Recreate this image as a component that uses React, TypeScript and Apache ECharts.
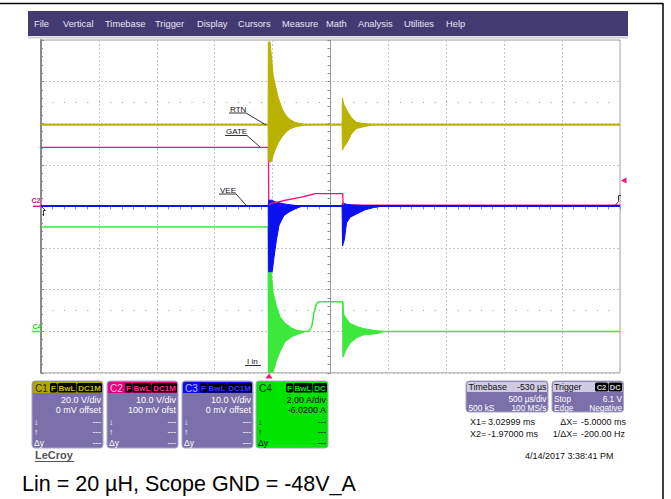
import React, { useEffect, useRef } from "react";
import * as echarts from "echarts";

// ---------- Time base: 500 µs/div, 10 div, delay -530 µs (cursor X2=-1.97 ms, X1=3.03 ms)
const T_MIN = -1970;
const T_MAX = 3030;

// ---------- Channel vertical ranges (8 div, scale and offset from the channel panels)
const C1_RANGE = [-80, 80]; // 20 V/div, 0 mV offset
const C2_RANGE = [-40.1, 39.9]; // 10 V/div, 100 mV offset
const C3_RANGE = [-40, 40]; // 10 V/div, 0 mV offset
const C4_RANGE = [-1.98, 14.02]; // 2 A/div, -6.02 A offset

// ---------- C1 RTN (V)
const C1_TIME = [-1970, -9, 300, 630, 880, 3030];
const C1_VOLTS = [39.2, 39.2, 39.2, 39.2, 39.2, 39.2];
// ringing bursts as min/max envelopes: [time µs, max, min]
const C1_RING_A = [
  [-9, 39.4, 39.0],
  [-7, 79.0, 22.3],
  [8, 79.0, 21.3],
  [20, 72.0, 21.5],
  [35, 63.0, 24.5],
  [51, 58.8, 27.1],
  [77, 52.6, 30.5],
  [111, 47.0, 33.4],
  [146, 43.6, 35.8],
  [180, 41.8, 37.2],
  [223, 40.5, 38.2],
  [267, 39.8, 38.7],
  [300, 39.4, 39.0],
];
const C1_RING_B = [
  [630, 39.4, 39.0],
  [633, 52.0, 27.1],
  [645, 49.0, 28.5],
  [670, 46.3, 30.3],
  [713, 42.4, 35.1],
  [756, 40.4, 37.5],
  [815, 39.8, 38.3],
  [880, 39.4, 39.0],
];

// ---------- C2 GATE (V)
const C2_PRE_TIME = [-1970, -6, -3];
const C2_PRE_VOLTS = [14.1, 14.1, 0.3];
const C2_TIME = [-3, 22, 152, 267, 353, 396, 635, 640];
const C2_VOLTS = [0.3, 0.65, 1.44, 2.09, 2.64, 2.95, 2.95, 0.2];
const C2_POST_TIME = [640, 3030];
const C2_POST_VOLTS = [0.2, 0.2];

// ---------- C3 VEE (V)
const C3_TIME = [-1970, -8, 280, 630, 960, 3030];
const C3_VOLTS = [0.1, 0.1, 0.1, 0.1, 0.1, 0.1];
const C3_RING_A = [
  [-8, 0.2, 0.0],
  [-4, 1.5, -15.7],
  [27, 1.5, -15.7],
  [43, 1.2, -12.1],
  [63, 1.0, -8.1],
  [86, 0.9, -4.5],
  [128, 0.6, -2.2],
  [180, 0.4, -1.2],
  [232, 0.2, -0.5],
  [280, 0.2, 0.0],
];
const C3_RING_B = [
  [630, 0.2, 0.0],
  [634, 0.8, -9.5],
  [650, 0.7, -8.0],
  [668, 0.5, -4.0],
  [700, 0.4, -2.6],
  [756, 0.3, -1.8],
  [830, 0.2, -0.8],
  [900, 0.2, -0.3],
  [960, 0.2, 0.0],
];

// ---------- C4 I in (A)
const C4_TIME = [-1970, -8, -4, 0, 300, 338, 368, 387, 405, 425, 635, 640, 3030];
const C4_AMPS = [5.03, 5.03, -1.97, 0, 0, 0, 0.24, 0.9, 1.28, 1.44, 1.44, 0, 0];
const C4_RING_A = [
  [-5, 2.96, -1.97],
  [16, 2.96, -1.97],
  [33, 1.92, -1.97],
  [65, 1.2, -1.37],
  [94, 0.72, -0.97],
  [137, 0.41, -0.49],
  [195, 0.17, -0.25],
  [249, 0.04, -0.12],
  [300, 0.01, -0.02],
];
const C4_RING_B = [
  [636, 1.44, -1.21],
  [642, 0.88, -1.21],
  [655, 0.72, -0.97],
  [698, 0.4, -0.55],
  [756, 0.25, -0.3],
  [813, 0.15, -0.16],
  [929, 0.04, -0.1],
  [980, 0.01, -0.02],
];

// ---------- Texts
const MENU_ITEMS = ["File", "Vertical", "Timebase", "Trigger", "Display", "Cursors", "Measure", "Math", "Analysis", "Utilities", "Help"];
const MENU_X = [34, 63, 105, 155, 197, 238, 282, 326, 358, 404, 446];
const CAPTION = "Lin = 20 µH, Scope GND = -48V_A";

const YELLOW = "#bab200";
const PINK = "#f5147f";
const BLUE = "#0a10f0";
const GREEN = "#3de83d";

const FONT = '"Liberation Sans", Arial, sans-serif';
const F = (s: number, w = "normal") => `${w} ${s}px ${FONT}`;

function txt(x: number, y: number, text: string, size: number, fill: string, align = "left", weight = "normal"): any {
  return {
    type: "text",
    silent: true,
    z: 100,
    style: {
      x,
      y,
      text,
      font: F(size, weight),
      fill,
      textAlign: align,
      textVerticalAlign: "middle",
      align,
      verticalAlign: "middle",
    },
  };
}
function ln(x1: number, y1: number, x2: number, y2: number, stroke: string, lineWidth = 1): any {
  return { type: "line", silent: true, z: 100, shape: { x1, y1, x2, y2 }, style: { stroke, lineWidth } };
}
function rect(x: number, y: number, w: number, h: number, fill: string, r: any = 0, stroke?: string): any {
  return {
    type: "rect",
    silent: true,
    z: 90,
    shape: { x, y, width: w, height: h, r },
    style: stroke ? { fill, stroke, lineWidth: 1 } : { fill },
  };
}

type Panel = {
  x: number;
  w: number;
  body: string;
  header: string;
  name: string;
  nameColor: string;
  badgeColor: string;
  badges: { t: string; dx: number; w: number }[];
  lines: string[];
  text: string;
};

const PANELS: Panel[] = [
  {
    x: 32, w: 71, body: "#7b70a9", header: "#b3a700", name: "C1", nameColor: "#2e2a00", badgeColor: "#c9bd00",
    badges: [{ t: "F", dx: 18, w: 7 }, { t: "BwL", dx: 25.5, w: 19 }, { t: "DC1M", dx: 45, w: 25 }],
    lines: ["20.0 V/div", "0 mV offset"], text: "#ffffff",
  },
  {
    x: 107, w: 71, body: "#7b70a9", header: "#e6007c", name: "C2", nameColor: "#ffc6e3", badgeColor: "#ff2a96",
    badges: [{ t: "F", dx: 18, w: 7 }, { t: "BwL", dx: 25.5, w: 19 }, { t: "DC1M", dx: 45, w: 25 }],
    lines: ["10.0 V/div", "100 mV ofst"], text: "#ffffff",
  },
  {
    x: 182, w: 71, body: "#7b70a9", header: "#0c0ce6", name: "C3", nameColor: "#b8b8ff", badgeColor: "#3a3aff",
    badges: [{ t: "F", dx: 18, w: 7 }, { t: "BwL", dx: 25.5, w: 19 }, { t: "DC1M", dx: 45, w: 25 }],
    lines: ["10.0 V/div", "0 mV offset"], text: "#ffffff",
  },
  {
    x: 256, w: 72, body: "#00e400", header: "#00e400", name: "C4", nameColor: "#003300", badgeColor: "#00e400",
    badges: [{ t: "F", dx: 30, w: 7 }, { t: "BwL", dx: 37.5, w: 19 }, { t: "DC", dx: 57, w: 14 }],
    lines: ["2.00 A/div", "-6.0200 A"], text: "#000000",
  },
];

function panelEls(p: Panel): any[] {
  const els: any[] = [];
  els.push(rect(p.x, 381, p.w, 67, p.body, 3, "#aaa3cc"));
  els.push(rect(p.x + 1, 382, p.w - 2, 11, p.header, [2, 2, 0, 0]));
  els.push(txt(p.x + 3, 388, p.name, 10, p.nameColor));
  p.badges.forEach((b) => {
    els.push({ ...rect(p.x + b.dx, 383, b.w, 9.5, "#000", 1.5), z: 95 });
    els.push(txt(p.x + b.dx + b.w / 2, 388, b.t, 8, p.badgeColor, "center", "bold"));
  });
  els.push(txt(p.x + p.w - 2, 399.5, p.lines[0], 9, p.text, "right"));
  els.push(txt(p.x + p.w - 2, 410, p.lines[1], 9, p.text, "right"));
  ["↓", "↑", "Δy"].forEach((g, i) => {
    const yy = 421.7 + i * 10.5;
    els.push(txt(p.x + 2, yy, g, 8.5, p.text));
    els.push(txt(p.x + p.w - 2, yy, "---", 8.5, p.text, "right"));
  });
  return els;
}

function envSeries(name: string, env: number[][], yAxisIndex: number, color: string, z: number): any {
  return {
    type: "custom",
    name,
    xAxisIndex: 1,
    yAxisIndex,
    z,
    silent: true,
    data: env,
    encode: { x: 0, y: [1, 2] },
    renderItem: (params: any, api: any) => {
      if (params.dataIndex !== 0) return null;
      const upper = env.map((r) => api.coord([r[0], r[1]]));
      const lower = env.slice().reverse().map((r) => api.coord([r[0], r[2]]));
      return {
        type: "polygon",
        shape: { points: upper.concat(lower) },
        style: { fill: color, stroke: color, lineWidth: 1 },
      };
    },
  };
}

const pairs = (xs: number[], ys: number[]) => xs.map((x, i) => [x, ys[i]]);

function lineSeries(name: string, data: number[][], yAxisIndex: number, color: string, width: number, z: number): any {
  return {
    type: "line",
    name,
    xAxisIndex: 1,
    yAxisIndex,
    data,
    symbol: "none",
    showSymbol: false,
    silent: true,
    z,
    lineStyle: { color, width },
  };
}

function buildOption(): any {
  const divAxisCommon = {
    type: "value",
    axisLabel: { show: false },
    axisTick: { show: true, length: 3, lineStyle: { color: "#8c8c8c" } },
    minorTick: { show: true, splitNumber: 5, length: 3, lineStyle: { color: "#8c8c8c" } },
    minorSplitLine: { show: false },
  };
  const hidden = (min: number, max: number) => ({ type: "value", min, max, show: false, splitLine: { show: false } });

  const graphic: any[] = [];
  // page frame
  graphic.push(ln(0, 3.5, 663, 3.5, "#000", 1.5));
  graphic.push(ln(663, 3, 663, 499, "#000", 1.5));
  // menu bar
  graphic.push(rect(28, 11, 600, 25, "#433a72"));
  graphic.push(ln(28, 37.5, 628, 37.5, "#cfcfcf", 2));
  MENU_ITEMS.forEach((m, i) => graphic.push(txt(MENU_X[i], 23.5, m, 9.3, "#e8e6f2")));
  // trace labels
  graphic.push(txt(230, 109, "RTN", 8, "#111"));
  graphic.push(ln(229, 113, 246, 113, "#333"));
  graphic.push(ln(246, 113, 266, 125, "#333"));
  graphic.push(txt(226, 131.5, "GATE", 8, "#111"));
  graphic.push(ln(225, 135.5, 247, 135.5, "#333"));
  graphic.push(ln(247, 135.5, 260, 147, "#333"));
  graphic.push(txt(220, 190, "VEE", 8, "#111"));
  graphic.push(ln(219, 194, 236, 194, "#333"));
  graphic.push(ln(236, 194, 246, 205, "#333"));
  graphic.push(txt(247, 361.5, "I in", 8, "#111"));
  graphic.push(ln(245, 365.5, 261, 365.5, "#333"));
  // channel ground markers & trigger markers
  graphic.push(txt(31.5, 200, "C2", 7, "#d0108a", "left", "bold"));
  graphic.push(ln(33, 206.3, 41, 206.3, PINK, 1.5));
  graphic.push(txt(32.5, 326, "C4", 7, "#22cc22", "left", "bold"));
  graphic.push(ln(32, 331.5, 41, 331.5, GREEN, 1.5));
  graphic.push({ type: "polyline", silent: true, z: 100, shape: { points: [[41.5, 206.5], [45.5, 210.5], [43.5, 210.5], [43.5, 216]] }, style: { stroke: "#333", fill: null, lineWidth: 1 } });
  graphic.push({ type: "polyline", silent: true, z: 100, shape: { points: [[615.5, 205], [618.5, 201.5], [618.5, 195.5], [621, 195.5]] }, style: { stroke: "#333", fill: null, lineWidth: 1 } });
  graphic.push({ type: "polygon", silent: true, z: 100, shape: { points: [[621, 180.5], [626.5, 177.5], [626.5, 183.5]] }, style: { fill: PINK } });
  graphic.push({ type: "polygon", silent: true, z: 100, shape: { points: [[269, 373.5], [265.5, 378.5], [272.5, 378.5]] }, style: { fill: PINK } });
  // channel panels
  PANELS.forEach((p) => graphic.push(...panelEls(p)));
  // LeCroy logo
  graphic.push(txt(35, 455, "LeCroy", 11, "#555", "left", "bold"));
  graphic.push(ln(35, 461.5, 74, 461.5, "#555", 1));
  // Timebase panel
  graphic.push(rect(466, 381, 82, 31, "#7b70a9", 3, "#aaa3cc"));
  graphic.push(rect(467, 382, 80, 10, "#cfcbe0", [2, 2, 0, 0]));
  graphic.push(txt(468.5, 387, "Timebase", 8.8, "#111"));
  graphic.push(txt(546.5, 387, "-530 µs", 8.8, "#111", "right"));
  graphic.push(txt(546.5, 399.3, "500 µs/div", 8.3, "#fff", "right"));
  graphic.push(txt(468.5, 408.3, "500 kS", 8.3, "#fff"));
  graphic.push(txt(546.5, 408.3, "100 MS/s", 8.3, "#fff", "right"));
  // Trigger panel
  graphic.push(rect(552, 381, 71.5, 31, "#7b70a9", 3, "#aaa3cc"));
  graphic.push(rect(553, 382, 69.5, 10, "#cfcbe0", [2, 2, 0, 0]));
  graphic.push(txt(554, 387, "Trigger", 8.8, "#111"));
  graphic.push({ ...rect(595, 382.5, 13, 9, "#000", 1.5), z: 95 });
  graphic.push(txt(601.5, 387.2, "C2", 7.5, "#d8d8d8", "center", "bold"));
  graphic.push({ ...rect(608.5, 382.5, 13.5, 9, "#000", 1.5), z: 95 });
  graphic.push(txt(615.2, 387.2, "DC", 7.5, "#d8d8d8", "center", "bold"));
  graphic.push(txt(554, 399.3, "Stop", 8.3, "#fff"));
  graphic.push(txt(622, 399.3, "6.1 V", 8.3, "#fff", "right"));
  graphic.push(txt(554, 408.3, "Edge", 8.3, "#fff"));
  graphic.push(txt(622, 408.3, "Negative", 8.3, "#fff", "right"));
  // cursor readouts
  graphic.push(txt(470, 422, "X1=", 9, "#111"));
  graphic.push(txt(488, 422, "3.02999 ms", 9, "#111"));
  graphic.push(txt(577.5, 422, "ΔX=", 9, "#111", "right"));
  graphic.push(txt(581, 422, "-5.0000 ms", 9, "#111"));
  graphic.push(txt(470, 434.3, "X2=", 9, "#111"));
  graphic.push(txt(488, 434.3, "-1.97000 ms", 9, "#111"));
  graphic.push(txt(577.5, 434.3, "1/ΔX=", 9, "#111", "right"));
  graphic.push(txt(581, 434.3, "-200.00 Hz", 9, "#111"));
  graphic.push(txt(525, 456, "4/14/2017 3:38:41 PM", 9, "#111"));
  // caption
  graphic.push(txt(22, 484, CAPTION, 21.5, "#000"));

  return {
    animation: false,
    backgroundColor: "#ffffff",
    grid: {
      left: 41,
      top: 40,
      width: 579,
      height: 332.8,
      show: true,
      borderColor: "#a6a6a6",
      borderWidth: 1,
      backgroundColor: "transparent",
    },
    xAxis: [
      {
        ...divAxisCommon,
        min: -5,
        max: 5,
        interval: 1,
        axisLine: { show: true, onZero: true, onZeroAxisIndex: 0, lineStyle: { color: "#9a9a9a", width: 1 } },
        splitLine: { show: true, lineStyle: { color: "#c6c6c6", type: [2, 2], width: 1 } },
      },
      { ...hidden(T_MIN, T_MAX), position: "top" },
    ],
    yAxis: [
      {
        ...divAxisCommon,
        min: -4,
        max: 4,
        interval: 1,
        axisLine: { show: true, onZero: true, onZeroAxisIndex: 0, lineStyle: { color: "#9a9a9a", width: 1 } },
        splitLine: { show: true, lineStyle: { color: "#c6c6c6", type: [2, 2], width: 1 } },
      },
      hidden(C1_RANGE[0], C1_RANGE[1]),
      hidden(C2_RANGE[0], C2_RANGE[1]),
      hidden(C3_RANGE[0], C3_RANGE[1]),
      hidden(C4_RANGE[0], C4_RANGE[1]),
      {
        type: "value",
        min: -4,
        max: 4,
        interval: 1,
        position: "left",
        axisLabel: { show: false },
        splitLine: { show: false },
        axisLine: { show: true, onZero: false, lineStyle: { color: "#8a8a8a", width: 2 } },
        axisTick: { show: true, inside: true, length: 3, lineStyle: { color: "#8a8a8a" } },
        minorTick: { show: true, splitNumber: 5, length: 2, lineStyle: { color: "#8a8a8a" } },
      },
    ],
    graphic: { elements: graphic },
    series: [
      {
        type: "line",
        name: "rows",
        xAxisIndex: 0,
        yAxisIndex: 0,
        data: [],
        silent: true,
        z: 0,
        markLine: {
          silent: true,
          symbol: "none",
          label: { show: false },
          lineStyle: { color: "#9a9a9a", type: [1, 10.58], width: 1 },
          data: [{ yAxis: 2.5 }, { yAxis: -2.5 }],
        },
      },
      lineSeries("GATE", pairs(C2_PRE_TIME, C2_PRE_VOLTS), 2, PINK, 1.3, 0.5),
      lineSeries("RTN", pairs(C1_TIME, C1_VOLTS), 1, YELLOW, 2, 1),
      envSeries("RTN ring 1", C1_RING_A, 1, YELLOW, 1),
      envSeries("RTN ring 2", C1_RING_B, 1, YELLOW, 1),
      lineSeries("I in", pairs(C4_TIME, C4_AMPS), 4, GREEN, 1.5, 2),
      envSeries("I in ring 1", C4_RING_A, 4, GREEN, 2),
      envSeries("I in ring 2", C4_RING_B, 4, GREEN, 2),
      lineSeries("GATE tail", pairs(C2_POST_TIME, C2_POST_VOLTS), 2, PINK, 1.5, 3),
      lineSeries("VEE", pairs(C3_TIME, C3_VOLTS), 3, BLUE, 2, 4),
      envSeries("VEE ring 1", C3_RING_A, 3, BLUE, 4),
      envSeries("VEE ring 2", C3_RING_B, 3, BLUE, 4),
      lineSeries("GATE ramp", pairs(C2_TIME, C2_VOLTS), 2, PINK, 1.3, 5),
    ],
  };
}

export default function App() {
  const ref = useRef<HTMLDivElement>(null);
  useEffect(() => {
    const chart = echarts.init(ref.current!, null, { renderer: "svg" });
    chart.setOption(buildOption());
    return () => chart.dispose();
  }, []);
  return (
    <div
      ref={ref}
      style={{ position: "fixed", left: 0, top: 0, width: 671, height: 499, background: "#fff" }}
    />
  );
}
